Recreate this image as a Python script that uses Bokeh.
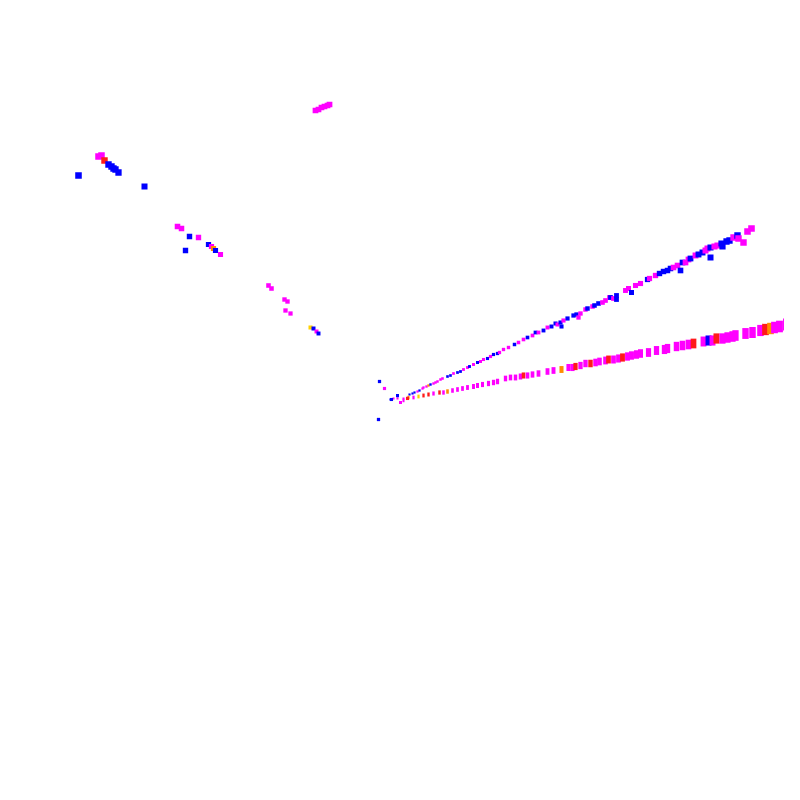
import numpy as np
from bokeh.plotting import figure
from bokeh.models import Range1d, ColumnDataSource
from bokeh.embed import file_html
from bokeh.resources import INLINE

# ---- data (screen-like coordinate space, y grows downward) ----
origin = (400, 398)

upper_x = [390, 393, 397, 397, 403, 407, 409, 412, 414, 417, 419, 422, 423, 426, 428, 430, 433, 435,
           437, 440, 442, 447, 450, 453, 457, 460, 463, 467, 469, 473, 477, 480, 483, 487, 490, 493,
           497, 499, 503, 508, 514, 518, 523, 527, 532, 535, 538, 543, 547, 551, 555, 557, 560, 561,
           563, 567, 573, 576, 578, 580, 585, 587, 592, 594, 598, 602, 605, 609, 610, 613, 616, 616,
           625, 628, 631, 635, 640, 647, 649, 655, 659, 663, 667, 670, 673, 677, 680, 682, 685, 688,
           690, 695, 698, 702, 705, 707, 710, 710, 714, 717, 721, 722, 726, 729, 733, 737, 738, 743,
           747, 751]
upper_y = [399, 398, 396, 398, 398, 397, 394, 393, 392, 391, 390, 388, 387, 386, 385, 384, 383, 382,
           381, 379, 378, 376, 375, 373, 372, 371, 369, 367, 366, 364, 362, 361, 359, 358, 356, 354,
           353, 352, 349, 347, 344, 342, 339, 337, 335, 332, 332, 330, 327, 326, 323, 324, 322, 326,
           320, 318, 315, 314, 317, 313, 309, 308, 306, 305, 303, 302, 300, 297, 297, 298, 295, 299,
           290, 288, 292, 285, 283, 279, 278, 275, 273, 271, 270, 268, 267, 265, 270, 262, 262, 259,
           258, 255, 254, 252, 250, 248, 257, 247, 246, 245, 243, 246, 241, 240, 237, 235, 238, 242,
           231, 228]
upper_c = ["b", "m", "b", "m", "m", "m", "b", "b", "b", "m", "b", "m", "m", "m", "o", "b", "m", "m",
           "m", "m", "m", "b", "b", "m", "b", "b", "m", "m", "b", "m", "b", "m", "m", "b", "m", "b",
           "b", "m", "m", "m", "b", "m", "m", "b", "m", "b", "m", "b", "m", "b", "b", "m", "b", "b",
           "m", "b", "b", "b", "m", "m", "m", "b", "m", "b", "b", "m", "m", "m", "b", "m", "b", "b",
           "m", "m", "b", "m", "m", "b", "m", "m", "b", "b", "b", "b", "m", "m", "b", "b", "m", "m",
           "b", "m", "b", "b", "m", "m", "b", "b", "m", "m", "b", "b", "b", "b", "m", "b", "m", "m",
           "m", "m"]

lower_x = [403, 408, 413, 418, 423, 428, 433, 439, 443, 447, 452, 457, 462, 467, 473, 477, 482, 488,
           493, 497, 505, 510, 515, 520, 523, 527, 532, 538, 547, 553, 561, 568, 572, 575, 580, 585,
           590, 595, 599, 605, 608, 613, 618, 622, 627, 631, 636, 640, 648, 656, 664, 667, 676, 682,
           688, 693, 703, 708, 712, 716, 722, 727, 732, 735, 745, 752, 760, 765, 770, 774, 779, 786,
           789]
lower_y = [400, 397, 397, 396, 395, 394, 393, 392, 392, 391, 390, 389, 388, 387, 386, 385, 384, 383,
           382, 381, 378, 377, 377, 376, 375, 375, 374, 373, 371, 370, 369, 367, 367, 366, 365, 363,
           363, 362, 361, 360, 359, 359, 358, 357, 356, 355, 354, 353, 352, 350, 349, 348, 346, 345,
           344, 343, 341, 340, 340, 338, 338, 337, 336, 335, 333, 332, 330, 329, 328, 327, 326, 324,
           324]
lower_c = ["m", "o", "m", "y", "r", "r", "m", "r", "m", "o", "m", "m", "m", "m", "m", "m", "m", "m",
           "m", "m", "m", "m", "m", "m", "r", "m", "m", "m", "m", "m", "o", "m", "m", "r", "m", "m",
           "r", "m", "m", "m", "r", "m", "m", "r", "m", "m", "m", "m", "m", "m", "m", "m", "m", "m",
           "m", "r", "m", "b", "m", "r", "m", "m", "m", "m", "m", "m", "m", "r", "o", "m", "m", "m",
           "m"]

scatter_x = [315, 318, 321, 324, 327, 329, 98, 101, 104, 108, 111, 113, 115, 118, 78, 144, 177, 181,
             189, 198, 185, 208, 211, 213, 215, 220, 268, 271, 284, 287, 285, 290, 310, 313, 316, 318,
             379, 384, 378, 391, 397, 400, 407]
scatter_y = [110, 109, 107, 106, 105, 104, 156, 155, 160, 164, 166, 168, 169, 172, 175, 186, 226, 228,
             236, 237, 250, 244, 246, 248, 250, 254, 285, 288, 299, 301, 310, 313, 327, 328, 331, 333,
             381, 388, 419, 399, 395, 402, 398]
scatter_c = ["m", "m", "m", "m", "m", "m", "m", "m", "r", "b", "b", "b", "b", "b", "b", "b", "m", "m",
             "b", "m", "b", "b", "m", "o", "b", "m", "m", "m", "m", "m", "m", "m", "y", "b", "m", "b",
             "b", "m", "b", "b", "b", "m", "r"]

palette = {"m": "#ff00ff", "b": "#0000ff", "r": "#ff1a1a", "o": "#ff8c00", "y": "#ffd000"}

p = figure(width=784, height=784, output_backend="svg", toolbar_location=None,
           x_range=Range1d(0, 784), y_range=Range1d(784, 0), min_border=0)
p.axis.visible = False
p.grid.visible = False
p.outline_line_color = None
p.background_fill_color = "white"


def add(xs, ys, cs, base, scale, aspect):
    xs = np.array(xs, float)
    ys = np.array(ys, float)
    d = np.hypot(xs - origin[0], ys - origin[1])
    w = base + d / scale
    src = ColumnDataSource(dict(x=xs, y=ys, w=w, h=w * aspect,
                                c=[palette[k] for k in cs]))
    p.rect("x", "y", width="w", height="h", width_units="screen", height_units="screen",
           fill_color="c", line_color=None, source=src)


add(upper_x, upper_y, upper_c, 2.0, 85, 1.0)
add(lower_x, lower_y, lower_c, 2.0, 80, 1.7)
add(scatter_x, scatter_y, scatter_c, 3.0, 110, 1.0)

open("out.html", "w").write(file_html(p, INLINE))
